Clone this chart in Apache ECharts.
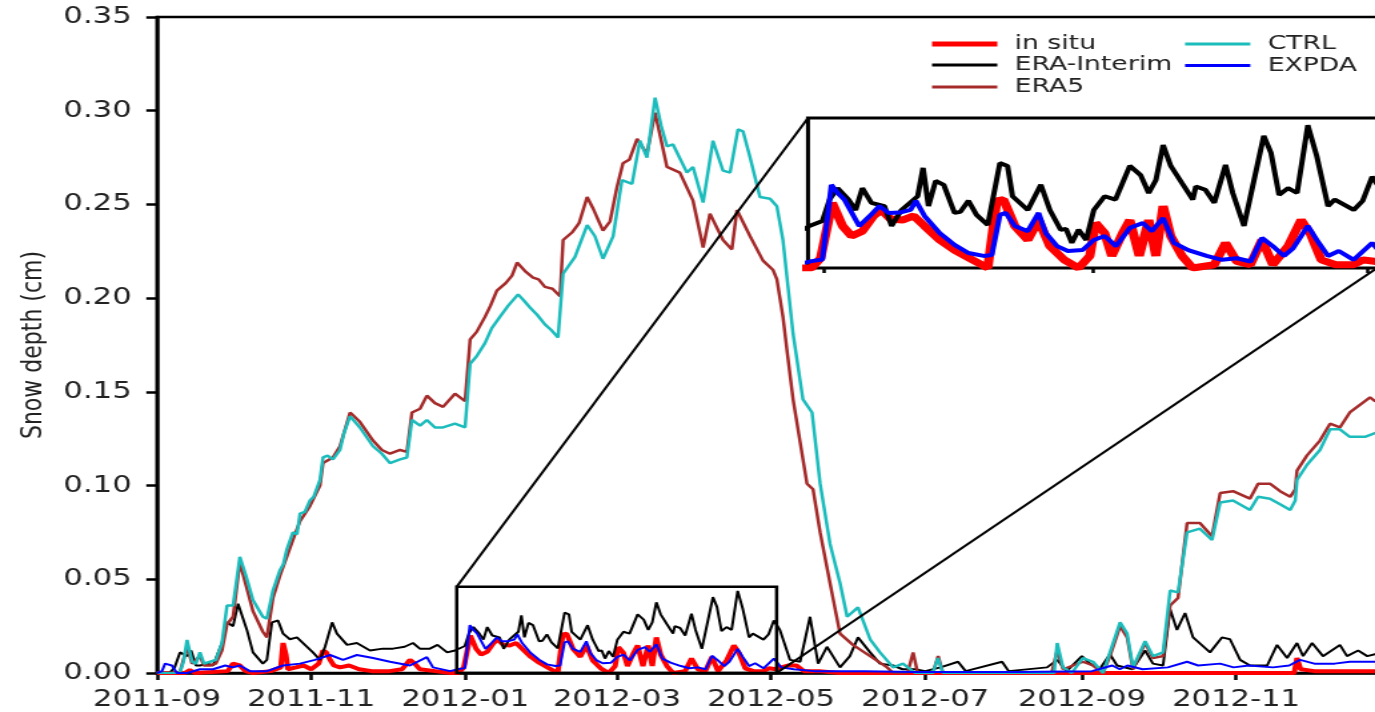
<!DOCTYPE html>
<html>
<head>
<meta charset="utf-8">
<title>Snow depth</title>
<script src="https://cdn.jsdelivr.net/npm/echarts@6/dist/echarts.min.js"></script>
<style>
  html, body { margin: 0; padding: 0; background: #fff; overflow: hidden; }
  /* the reference picture is stretched sideways, so the chart is drawn narrow and widened */
  #main { width: 1032px; height: 712px; transform: scaleX(1.3324); transform-origin: 0 0; }
</style>
</head>
<body>
<div id="main"></div>
<script>
// x values are days counted from 2011-09-01
const lastDay = 487; // 2012-12-31

const monthTicks = ['2011-09-01', '2011-11-01', '2012-01-01', '2012-03-01',
  '2012-05-01', '2012-07-01', '2012-09-01', '2012-11-01'];
const insetTicks = ['2012-01-01', '2012-03-01', '2012-05-01'];

// zoomed window (days, snow depth)
const zoomFrom = 118.6;
const zoomTo = 245.2;
const zoomTop = 0.046;

const inSitu = [[0,0],[11,0],[13,0.0015],[15,0],[28,0.001],[30,0.005],[32.8,0.004],[35,0.001],[38,0],
  [45,0.001],[49,0.003],[49.9,0.016],[51,0.010],[51.8,0.002],[55,0.003],[58,0.004],[61,0.002],[64,0.005],
  [65.7,0.012],[67,0.011],[68.5,0.007],[70,0.004],[72.4,0.003],[76,0.004],[80,0.002],[85,0.001],[92,0.001],
  [97,0.002],[100.1,0.007],[102,0.005],[104,0.002],[110,0.001],[116,0],[119.4,0],[121.4,0.003],[124,0.020],
  [126.3,0.0129],[128.3,0.0098],[130.7,0.0113],[133.2,0.016],[134.9,0.0178],[137,0.015],[139.6,0.0147],
  [142.1,0.016],[144.5,0.0129],[147.9,0.0086],[151.2,0.0055],[155.2,0.0025],[158.6,0],[160.6,0.0206],
  [162.1,0.021],[164.6,0.0129],[167.5,0.0086],[169.9,0.0147],[172.4,0.0067],[175.6,0.0025],[178.8,0],
  [181.3,0.0037],[182.6,0.0138],[184.6,0.0107],[186.2,0.0037],[188.6,0.0107],[190.2,0.0147],[192.3,0.0037],
  [194.4,0.0147],[196,0.0037],[197.6,0.019],[199.3,0.0098],[201.8,0.0037],[204.2,0],[209,0.001],
  [211.5,0.0077],[214,0.002],[217,0.001],[219.6,0.0086],[222,0.001],[225.4,0.0067],[228.3,0.0147],
  [230.3,0.0107],[232.8,0.0025],[236,0.001],[240,0.001],[242.1,0.0025],[245,0.002],[247,0.003],[250,0.004],
  [253,0.004],[256,0.001],[262,0.001],[270,0],[450,0],[451.1,0.008],[452.5,0.002],[458,0.001],[470,0.001],
  [487,0.001]];

const eraInterim = [[0,0],[5,0],[7,0.003],[9.1,0.011],[11.9,0.009],[13.5,0.012],[15.4,0.004],[17,0.004],
  [20,0.005],[22.2,0.004],[25.7,0.016],[27.7,0.027],[30.1,0.025],[32.1,0.037],[35.6,0.023],[38,0.011],
  [41.9,0.005],[43.5,0.007],[45.5,0.027],[47.9,0.028],[49.9,0.021],[52.6,0.018],[55.4,0.019],[57.8,0.016],
  [61.7,0.011],[64.5,0.007],[66.5,0.014],[69.3,0.027],[71.2,0.021],[75.2,0.015],[79.1,0.016],[84.3,0.012],
  [89.4,0.013],[93.4,0.013],[98,0.014],[101.3,0.016],[104,0.013],[108,0.013],[111,0.015],[114.8,0.011],
  [117.9,0.012],[118.9,0.0129],[121.8,0.0144],[123.4,0.021],[125.2,0.0245],[127.6,0.021],[129.2,0.0178],
  [130.7,0.0245],[132.7,0.020],[135.6,0.019],[137.2,0.0129],[139.4,0.0178],[143,0.022],[144.2,0.0307],
  [145.4,0.019],[147,0.0267],[148.8,0.0255],[151.2,0.0169],[152.5,0.0172],[154.3,0.0206],[156.1,0.0163],
  [158.6,0.0132],[161.3,0.0322],[163,0.0313],[164.1,0.022],[167.5,0.0178],[170.4,0.0255],[172.4,0.0178],
  [174.8,0.0117],[176,0.012],[177.3,0.0077],[178.8,0.0117],[180.5,0.0086],[182.2,0.0178],[184.6,0.022],
  [187,0.021],[190.2,0.0313],[192.6,0.0285],[194.4,0.023],[196,0.027],[197.6,0.0377],[199.3,0.0313],
  [201.8,0.026],[204.2,0.021],[204.9,0.025],[207,0.024],[209,0.020],[211.5,0.0316],[213.1,0.023],
  [215.6,0.0129],[218,0.028],[220,0.0405],[221.6,0.0353],[223.4,0.0224],[225.4,0.0245],[227.4,0.023],
  [229.8,0.0438],[231.8,0.0343],[234.3,0.019],[235.8,0.021],[240,0.0178],[242,0.0206],[244.1,0.028],
  [246.5,0.023],[250.5,0.007],[254.5,0.006],[258.4,0.030],[261.6,0.005],[265.1,0.014],[270.3,0.003],
  [274.2,0.009],[277.4,0.019],[282.2,0.011],[286.1,0.005],[291.3,0.004],[295,0.002],[300,0.002],[304,0.001],
  [310,0.003],[317,0.006],[320,0.001],[334.4,0.006],[337,0.001],[352.2,0.003],[356.2,0.007],[360,0.001],
  [366,0.009],[369.2,0.005],[373,0.002],[377.1,0.010],[379.9,0.004],[386,0.002],[391,0.012],[394.1,0.005],
  [398.1,0.004],[400.9,0.034],[403.6,0.023],[406.8,0.032],[410,0.019],[416.7,0.011],[421.4,0.019],
  [424.6,0.018],[428.6,0.007],[432.5,0.004],[439.3,0.004],[443.2,0.015],[447.2,0.008],[451.1,0.016],
  [453.5,0.009],[457.1,0.016],[461.4,0.009],[468.1,0.015],[470.9,0.009],[475.3,0.012],[478.9,0.009],
  [482,0.010],[487,0.009]];

const era5 = [[0,0],[9,0],[11.9,0.014],[13.9,0.005],[17,0.009],[18.6,0.004],[21,0.004],[23.3,0.005],
  [25.7,0.012],[27.7,0.026],[30.1,0.030],[32.8,0.059],[35.2,0.047],[38,0.033],[41.9,0.022],[43.5,0.019],
  [45.9,0.040],[48.7,0.052],[51.4,0.062],[53.8,0.071],[56.6,0.081],[60.5,0.089],[64.5,0.100],[65.7,0.112],
  [69.6,0.115],[72.4,0.121],[76.4,0.139],[80.3,0.134],[85.5,0.124],[89,0.119],[92.2,0.117],[96.2,0.119],
  [98.9,0.118],[100.9,0.139],[104.1,0.141],[106.8,0.148],[110,0.144],[113.2,0.142],[117.9,0.149],
  [121.9,0.145],[123.9,0.178],[126.5,0.182],[129.8,0.190],[132,0.196],[134.5,0.204],[138,0.208],
  [140.5,0.212],[142.5,0.219],[146,0.214],[148.8,0.211],[151,0.210],[153.5,0.206],[156.5,0.205],
  [159.5,0.201],[160.7,0.231],[164.2,0.235],[167,0.240],[170.2,0.254],[172.5,0.248],[176.5,0.236],
  [179.3,0.241],[182,0.259],[184.4,0.272],[187,0.274],[190,0.285],[193.9,0.277],[197.1,0.299],
  [201.8,0.270],[206.9,0.267],[212.1,0.252],[216.1,0.227],[218.8,0.245],[224,0.231],[227.5,0.226],
  [229.5,0.247],[234.7,0.233],[239.8,0.220],[243.8,0.215],[245.3,0.210],[247.7,0.190],[249.3,0.172],
  [251.7,0.146],[257.2,0.101],[259.6,0.098],[262.4,0.075],[266.3,0.048],[270.3,0.021],[275.4,0.015],
  [282.2,0.009],[288.9,0.003],[291.3,0],[297,0],[299.2,0.011],[301,0],[307,0],[309.1,0.009],[311,0],
  [354,0],[356.2,0.012],[358.5,0.002],[366.4,0.006],[370.4,0.004],[374.4,0],[377.1,0.009],[381.1,0.025],
  [383.9,0.019],[386.2,0.002],[391,0.016],[394.1,0.008],[398.1,0.009],[400.9,0.036],[404,0.040],
  [407.6,0.080],[412.7,0.080],[417.5,0.073],[420.7,0.096],[425.8,0.097],[432.5,0.093],[435.7,0.101],
  [440.4,0.101],[444.4,0.097],[448.4,0.094],[450.4,0.098],[451.1,0.108],[455,0.116],[460.2,0.124],
  [464.2,0.133],[468.1,0.131],[472,0.139],[476,0.143],[480,0.147],[482,0.145],[487,0.148]];

const ctrl = [[0,0],[9,0],[10.5,0.006],[11.9,0.0176],[13.9,0.006],[15.4,0.005],[17,0.011],[18.6,0.005],
  [21,0.006],[23.3,0.007],[25.7,0.016],[27.7,0.036],[30.1,0.036],[32.8,0.062],[35.2,0.052],[38,0.039],
  [41.9,0.030],[43.5,0.029],[45.9,0.044],[48.7,0.055],[50,0.058],[51.4,0.066],[53.8,0.075],[55.4,0.074],
  [56.6,0.085],[58.5,0.086],[60.5,0.092],[62,0.094],[64.5,0.103],[65.7,0.115],[67.5,0.116],[69.6,0.114],
  [72.4,0.119],[74,0.128],[76.4,0.137],[80.3,0.131],[85.5,0.121],[89,0.117],[92.2,0.112],[96.2,0.114],
  [98.9,0.115],[100.9,0.135],[104.1,0.132],[106.8,0.135],[110,0.131],[113.2,0.131],[117.9,0.133],
  [121.9,0.131],[123.9,0.165],[126.5,0.169],[129.8,0.176],[132.5,0.184],[135.7,0.190],[139,0.196],
  [142.9,0.202],[145,0.199],[147.6,0.195],[150.5,0.191],[153.5,0.186],[156,0.183],[158.7,0.179],
  [160.7,0.213],[165.4,0.222],[170.2,0.239],[173.3,0.233],[176.5,0.221],[180.5,0.233],
  [184,0.263],[188,0.261],[191.1,0.284],[193.9,0.275],[197.1,0.307],[199.5,0.292],[201.8,0.281],
  [204.2,0.282],[209.7,0.267],[212.1,0.270],[216.1,0.251],[220,0.284],[224,0.268],[226.8,0.267],
  [229.9,0.290],[231.9,0.289],[234.7,0.275],[238.6,0.254],[242.6,0.253],[245.3,0.249],[247.7,0.231],
  [251.7,0.181],[255.6,0.146],[259.2,0.139],[262.4,0.101],[266.3,0.069],[270.3,0.048],[273.1,0.030],
  [277.4,0.035],[282.2,0.018],[286.1,0.011],[291.3,0.003],[295.2,0.005],[300,0],[307,0],[309,0.008],
  [311,0],[355,0],[356.2,0.016],[358.5,0.003],[362,0],[366.4,0.008],[370.4,0.006],[374.4,0],[377.1,0.011],
  [381.1,0.027],[383.9,0.021],[386.2,0.003],[391,0.017],[394.1,0.009],[398.1,0.011],[400.9,0.044],
  [404,0.043],[407.6,0.075],[412.7,0.077],[417.5,0.071],[420.7,0.091],[425.8,0.092],[432.5,0.087],
  [435.7,0.094],[440.4,0.093],[444.4,0.090],[448.4,0.087],[450.4,0.092],[451.1,0.103],[455,0.111],
  [460.2,0.119],[464.2,0.130],[468.1,0.130],[472,0.126],[478,0.126],[482,0.128],[487,0.13]];

const expda = [[0,0],[2,0.001],[3.2,0.005],[5.9,0.004],[7.9,0],[12,0],[17,0.002],[22.2,0.002],[27,0.004],
  [30,0.003],[32.8,0.004],[36.8,0.001],[43.5,0.001],[49.9,0.004],[56.6,0.005],[62.5,0.007],[68.5,0.0096],
  [73.6,0.007],[79.1,0.0096],[85.5,0.008],[92.2,0.006],[100.1,0.004],[106.8,0.0085],[109.2,0.003],
  [116,0.001],[119.4,0.0021],[121.8,0.0026],[123.8,0.0255],[125.2,0.023],[126.7,0.021],[130,0.0129],
  [132.4,0.016],[134.5,0.019],[136.5,0.0169],[139,0.017],[141.4,0.0178],[142.6,0.0206],[144.5,0.016],
  [147.9,0.0107],[151.2,0.0071],[154.3,0.0046],[157.7,0.0037],[159.5,0.004],[161.3,0.0163],[162.6,0.0169],
  [164.6,0.0129],[167.5,0.0113],[169.9,0.0169],[171.5,0.0107],[174,0.0067],[176.4,0.0052],[179.7,0.0055],
  [182.2,0.0086],[184.6,0.0098],[187.1,0.0067],[190.2,0.0123],[193.1,0.0138],[195.1,0.0113],[197.6,0.0153],
  [200,0.0077],[203.2,0.0055],[207.3,0.0037],[210.7,0.0025],[214,0.003],[217.1,0.002],[219.6,0.0092],
  [222,0.0067],[224.5,0.0037],[226.5,0.006],[229.8,0.0129],[231.8,0.0086],[234.3,0.0037],[236.7,0.0052],
  [240,0.0025],[244.1,0.0077],[247,0.003],[252,0.002],[260,0.001],[280,0.001],[300,0.0005],[340,0.0005],
  [370,0.001],[378,0.004],[381,0.002],[384,0.004],[390,0.002],[400,0.003],[407.6,0.006],[412,0.004],
  [420.7,0.005],[426,0.003],[432,0.004],[441.6,0.003],[448,0.004],[452.3,0.007],[458,0.005],[466,0.005],
  [472,0.006],[478.9,0.006],[487,0.006]];

const t0 = new Date(2011, 8, 1).getTime();
function parseDay(s) {
  const p = s.split('-');
  return Math.round((new Date(+p[0], +p[1] - 1, +p[2]).getTime() - t0) / 86400000);
}
function monthLabel(day) {
  const d = new Date(t0 + day * 86400000 + 43200000);
  return d.getFullYear() + '-' + String(d.getMonth() + 1).padStart(2, '0');
}

const tickFont = 'DejaVu Sans';
const ink = '#222';

const seriesDefs = [
  { name: 'in situ', data: inSitu, color: '#ff0000', width: 4, insetWidth: 7, inset: true },
  { name: 'ERA-Interim', data: eraInterim, color: '#000000', width: 2, insetWidth: 4, inset: true },
  { name: 'ERA5', data: era5, color: '#a52a2a', width: 2.5, inset: false },
  { name: 'CTRL', data: ctrl, color: '#1cbcbc', width: 2.5, inset: false },
  { name: 'EXPDA', data: expda, color: '#0000ff', width: 2, insetWidth: 4, inset: true }
];

const series = [];
seriesDefs.forEach(function (s) {
  series.push({
    name: s.name, type: 'line', xAxisIndex: 0, yAxisIndex: 0,
    data: s.data, showSymbol: false, symbol: 'none',
    color: s.color, lineStyle: { color: s.color, width: s.width }, z: 3
  });
});
seriesDefs.forEach(function (s) {
  if (!s.inset) return;
  series.push({
    name: s.name, type: 'line', xAxisIndex: 1, yAxisIndex: 1,
    data: s.data, showSymbol: false, symbol: 'none', clip: true,
    color: s.color, lineStyle: { color: s.color, width: s.insetWidth }, z: 12
  });
});

const legendText = { fontFamily: tickFont, fontSize: 20, color: ink, lineHeight: 20, padding: [0, 0, 0, 8] };
function legendBox(left, top, gap, h, names) {
  return {
    left: left, top: top, orient: 'vertical', padding: 0, itemGap: gap,
    itemWidth: 49, itemHeight: h, icon: 'rect', selectedMode: false,
    textStyle: legendText, data: names
  };
}

const option = {
  animation: false,
  backgroundColor: '#fff',
  grid: [
    { left: 117.8, top: 17, right: -9.5, bottom: 39, show: true, borderColor: '#000', borderWidth: 2.5,
      outerBoundsMode: 'none', containLabel: false },
    { left: 606.4, top: 118, right: -1.5, bottom: 444, show: true, borderColor: '#000', borderWidth: 3,
      backgroundColor: '#fff', outerBoundsMode: 'none', containLabel: false, z: 10 }
  ],
  legend: [
    legendBox(699.5, 34, 2, 5, ['in situ']),
    legendBox(699.5, 55, 2, 3, ['ERA-Interim', 'ERA5']),
    legendBox(889.4, 34, 1.5, 3, ['CTRL', 'EXPDA'])
  ],
  xAxis: [
    {
      type: 'value', gridIndex: 0, min: 0, max: lastDay,
      axisLine: { lineStyle: { color: '#000', width: 2.5 } },
      axisTick: { show: true, length: 7, lineStyle: { color: '#000', width: 2.5 },
        customValues: monthTicks.map(parseDay) },
      axisLabel: { customValues: monthTicks.map(parseDay), formatter: monthLabel, margin: 16,
        fontFamily: tickFont, fontSize: 23, color: ink, hideOverlap: false },
      splitLine: { show: false }
    },
    {
      type: 'value', gridIndex: 1, min: zoomFrom, max: zoomTo,
      axisLine: { show: false },
      axisTick: { show: true, length: 5, lineStyle: { color: '#000', width: 2.5 },
        customValues: insetTicks.map(parseDay) },
      axisLabel: { show: false },
      splitLine: { show: false }
    }
  ],
  yAxis: [
    {
      type: 'value', gridIndex: 0, min: 0, max: 0.35, interval: 0.05,
      name: 'Snow depth (cm)', nameLocation: 'middle', nameGap: 74,
      nameTextStyle: { fontFamily: tickFont, fontSize: 22, color: ink },
      axisLine: { show: true, lineStyle: { color: '#000', width: 2.5 } },
      axisTick: { show: true, length: 8, lineStyle: { color: '#000', width: 2.5 } },
      axisLabel: { margin: 19, fontFamily: tickFont, fontSize: 23, color: ink,
        formatter: function (v) { return v.toFixed(2); } },
      splitLine: { show: false }
    },
    {
      type: 'value', gridIndex: 1, min: 0, max: zoomTop,
      axisLine: { show: false }, axisTick: { show: false }, axisLabel: { show: false },
      splitLine: { show: false }
    }
  ],
  series: series
};

const chart = echarts.init(document.getElementById('main'));
chart.setOption(option);

// zoom box on the main axes and the two connector lines to the inset
const boxTL = chart.convertToPixel({ gridIndex: 0 }, [zoomFrom, zoomTop]);
const boxBR = chart.convertToPixel({ gridIndex: 0 }, [zoomTo, 0]);
const insTL = chart.convertToPixel({ gridIndex: 1 }, [zoomFrom, zoomTop]);
const insBR = chart.convertToPixel({ gridIndex: 1 }, [zoomTo, 0]);
chart.setOption({
  graphic: [
    { type: 'rect', z: 20, silent: true,
      shape: { x: boxTL[0], y: boxTL[1], width: boxBR[0] - boxTL[0], height: boxBR[1] - boxTL[1] },
      style: { fill: 'none', stroke: '#000', lineWidth: 2.5 } },
    { type: 'line', z: 20, silent: true,
      shape: { x1: boxTL[0], y1: boxTL[1], x2: insTL[0], y2: insTL[1] },
      style: { stroke: '#000', lineWidth: 2 } },
    { type: 'line', z: 20, silent: true,
      shape: { x1: boxBR[0], y1: boxBR[1], x2: insBR[0], y2: insBR[1] },
      style: { stroke: '#000', lineWidth: 2 } }
  ]
});
</script>
</body>
</html>
